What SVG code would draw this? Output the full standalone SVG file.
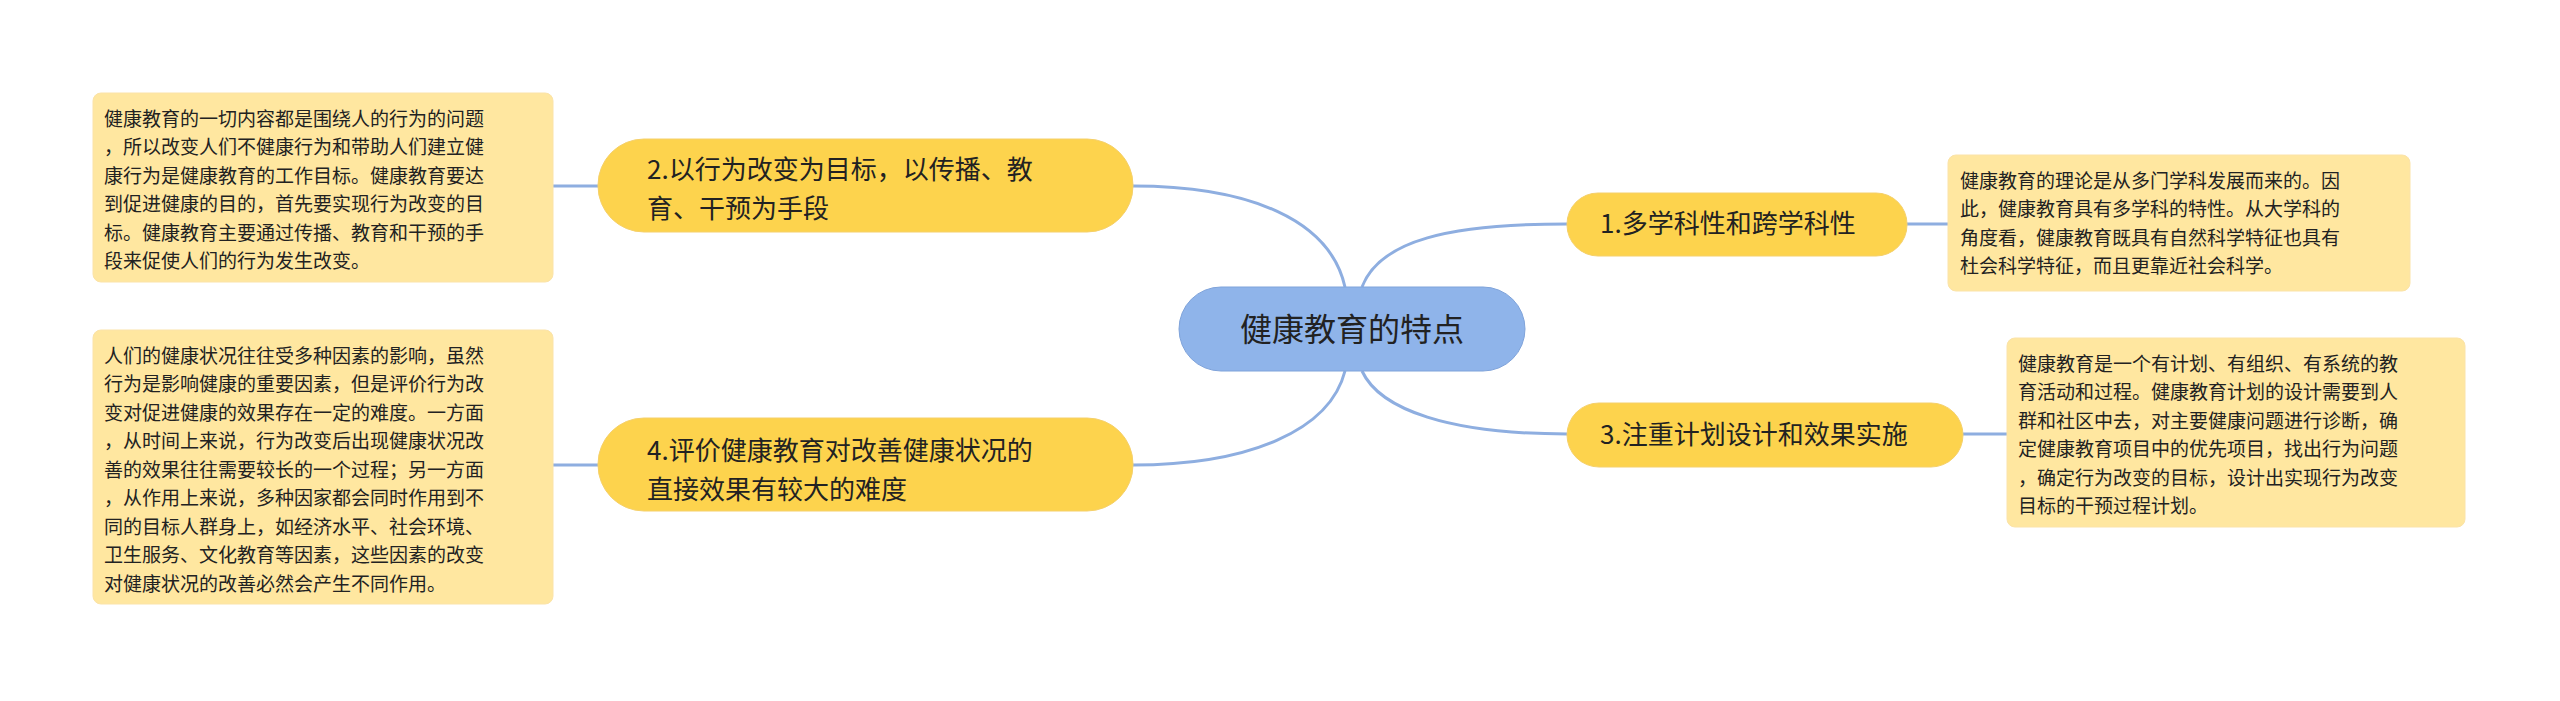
<svg xmlns="http://www.w3.org/2000/svg" width="2560" height="701" viewBox="0 0 2560 701">
<style>
.c{fill:none;stroke:#8EAEE0;stroke-width:3}
.t{fill:#FDD34D;stroke:#F5D06A;stroke-width:1}
.d{fill:#FFE7A0;stroke:#FBE3A8;stroke-width:1}
text{font-family:"Noto Sans CJK SC","Noto Sans",sans-serif;fill:#222}
.m{font-size:26px}
.s{font-size:19px}
</style>
<rect width="2560" height="701" fill="#fff"/>
<g id="connectors">
<path class="c" d="M1345 287 C1330 220 1250 186 1133 186"/>
<path class="c" d="M1345 371 C1330 430 1250 465 1133 465"/>
<path class="c" d="M1362 287 C1380 240 1450 224 1567 224"/>
<path class="c" d="M1362 371 C1380 410 1450 434 1567 434"/>
<path class="c" d="M598 186 H553"/>
<path class="c" d="M598 465 H553"/>
<path class="c" d="M1907 224 H1948"/>
<path class="c" d="M1963 434 H2007"/>
</g>
<g id="center">
<rect x="1179" y="287" width="346" height="84" rx="42" fill="#8FB4EA" stroke="#7FA3DA" stroke-width="1"/>
<text x="1352" y="341" font-size="32" text-anchor="middle">健康教育的特点</text>
</g>
<g id="n2">
<rect class="t" x="598" y="139" width="535" height="93" rx="46"/>
<text class="m" x="647" y="179">2.以行为改变为目标，以传播、教</text>
<text class="m" x="647" y="218">育、干预为手段</text>
</g>
<g id="n4">
<rect class="t" x="598" y="418" width="535" height="93" rx="46"/>
<text class="m" x="647" y="460">4.评价健康教育对改善健康状况的</text>
<text class="m" x="647" y="499">直接效果有较大的难度</text>
</g>
<g id="n1">
<rect class="t" x="1567" y="193" width="340" height="63" rx="31"/>
<text class="m" x="1600" y="233">1.多学科性和跨学科性</text>
</g>
<g id="n3">
<rect class="t" x="1567" y="403" width="396" height="64" rx="32"/>
<text class="m" x="1600" y="444">3.注重计划设计和效果实施</text>
</g>
<g id="d2">
<rect class="d" x="93" y="93" width="460" height="189" rx="8"/>
<text class="s" x="104" y="126">健康教育的一切内容都是围绕人的行为的问题</text>
<text class="s" x="104" y="154">，所以改变人们不健康行为和带助人们建立健</text>
<text class="s" x="104" y="183">康行为是健康教育的工作目标。健康教育要达</text>
<text class="s" x="104" y="211">到促进健康的目的，首先要实现行为改变的目</text>
<text class="s" x="104" y="240">标。健康教育主要通过传播、教育和干预的手</text>
<text class="s" x="104" y="268">段来促使人们的行为发生改变。</text>
</g>
<g id="d4">
<rect class="d" x="93" y="330" width="460" height="274" rx="8"/>
<text class="s" x="104" y="363">人们的健康状况往往受多种因素的影响，虽然</text>
<text class="s" x="104" y="391">行为是影响健康的重要因素，但是评价行为改</text>
<text class="s" x="104" y="420">变对促进健康的效果存在一定的难度。一方面</text>
<text class="s" x="104" y="448">，从时间上来说，行为改变后出现健康状况改</text>
<text class="s" x="104" y="477">善的效果往往需要较长的一个过程；另一方面</text>
<text class="s" x="104" y="505">，从作用上来说，多种因家都会同时作用到不</text>
<text class="s" x="104" y="534">同的目标人群身上，如经济水平、社会环境、</text>
<text class="s" x="104" y="562">卫生服务、文化教育等因素，这些因素的改变</text>
<text class="s" x="104" y="591">对健康状况的改善必然会产生不同作用。</text>
</g>
<g id="d1">
<rect class="d" x="1948" y="155" width="462" height="136" rx="8"/>
<text class="s" x="1960" y="188">健康教育的理论是从多门学科发展而来的。因</text>
<text class="s" x="1960" y="216">此，健康教育具有多学科的特性。从大学科的</text>
<text class="s" x="1960" y="245">角度看，健康教育既具有自然科学特征也具有</text>
<text class="s" x="1960" y="273">杜会科学特征，而且更靠近社会科学。</text>
</g>
<g id="d3">
<rect class="d" x="2007" y="338" width="458" height="189" rx="8"/>
<text class="s" x="2018" y="371">健康教育是一个有计划、有组织、有系统的教</text>
<text class="s" x="2018" y="399">育活动和过程。健康教育计划的设计需要到人</text>
<text class="s" x="2018" y="428">群和社区中去，对主要健康问题进行诊断，确</text>
<text class="s" x="2018" y="456">定健康教育项目中的优先项目，找出行为问题</text>
<text class="s" x="2018" y="485">，确定行为改变的目标，设计出实现行为改变</text>
<text class="s" x="2018" y="513">目标的干预过程计划。</text>
</g>
</svg>
